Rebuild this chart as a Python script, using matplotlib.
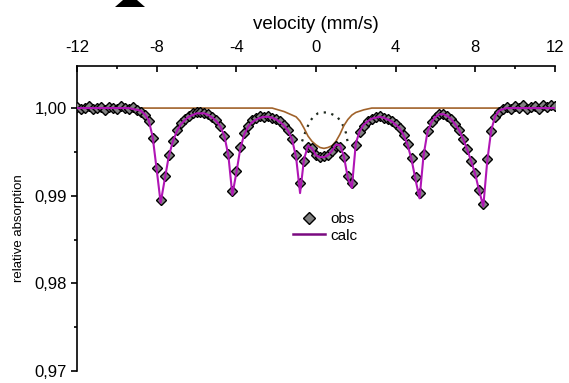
import numpy as np
import matplotlib
matplotlib.use("Agg")
import matplotlib.pyplot as plt
from matplotlib.ticker import MultipleLocator, FuncFormatter
from matplotlib.patches import Polygon
from matplotlib.lines import Line2D

plt.rcParams['font.family'] = ['Liberation Sans', 'DejaVu Sans']

# velocity grid (mm/s)
velocity = np.linspace(-12, 12, 121)

obs = [1.0001, 0.9999, 1.0000, 1.0002, 0.9999, 1.0000, 1.0001, 0.9998, 1.0001, 1.0000,
       0.9999, 1.0002, 1.0000, 0.9999, 1.0001, 0.9998, 0.9996, 0.9992, 0.9985, 0.9966,
       0.9932, 0.9895, 0.9922, 0.9947, 0.9962, 0.9975, 0.9983, 0.9988, 0.9991, 0.9994,
       0.9995, 0.9996, 0.9994, 0.9993, 0.9990, 0.9986, 0.9980, 0.9968, 0.9948, 0.9905,
       0.9928, 0.9956, 0.9971, 0.9980, 0.9986, 0.9989, 0.9991, 0.9990, 0.9991, 0.9989,
       0.9988, 0.9985, 0.9981, 0.9975, 0.9965, 0.9946, 0.9914, 0.9940, 0.9956, 0.9954,
       0.9947, 0.9944, 0.9945, 0.9947, 0.9951, 0.9957, 0.9956, 0.9944, 0.9922, 0.9914,
       0.9958, 0.9973, 0.9980, 0.9985, 0.9988, 0.9990, 0.9991, 0.9989, 0.9988, 0.9985,
       0.9982, 0.9977, 0.9969, 0.9959, 0.9943, 0.9921, 0.9903, 0.9948, 0.9974, 0.9984,
       0.9990, 0.9993, 0.9993, 0.9991, 0.9988, 0.9982, 0.9975, 0.9965, 0.9953, 0.9940,
       0.9926, 0.9907, 0.9891, 0.9942, 0.9974, 0.9990, 0.9996, 0.9999, 1.0001, 0.9999,
       1.0002, 1.0000, 1.0003, 0.9999, 1.0001, 1.0002, 0.9999, 1.0003, 1.0001, 1.0004,
       1.0002]

calc = [1.0000, 1.0000, 1.0000, 1.0000, 1.0000, 1.0000, 1.0000, 1.0000, 1.0000, 1.0000,
        1.0000, 1.0000, 1.0000, 1.0000, 0.9999, 0.9998, 0.9997, 0.9993, 0.9986, 0.9967,
        0.9930, 0.9892, 0.9918, 0.9944, 0.9961, 0.9973, 0.9981, 0.9986, 0.9990, 0.9992,
        0.9994, 0.9994, 0.9994, 0.9992, 0.9989, 0.9985, 0.9979, 0.9968, 0.9946, 0.9901,
        0.9926, 0.9954, 0.9970, 0.9979, 0.9984, 0.9987, 0.9989, 0.9990, 0.9990, 0.9989,
        0.9987, 0.9984, 0.9980, 0.9974, 0.9964, 0.9944, 0.9903, 0.9942, 0.9957, 0.9954,
        0.9946, 0.9944, 0.9944, 0.9946, 0.9951, 0.9958, 0.9958, 0.9945, 0.9920, 0.9909,
        0.9960, 0.9974, 0.9981, 0.9985, 0.9988, 0.9989, 0.9990, 0.9989, 0.9987, 0.9985,
        0.9981, 0.9977, 0.9969, 0.9958, 0.9941, 0.9918, 0.9897, 0.9946, 0.9973, 0.9984,
        0.9990, 0.9993, 0.9993, 0.9991, 0.9987, 0.9981, 0.9974, 0.9964, 0.9952, 0.9939,
        0.9924, 0.9905, 0.9888, 0.9940, 0.9975, 0.9991, 0.9997, 0.9999, 1.0000, 1.0000,
        1.0000, 1.0000, 1.0000, 1.0000, 1.0000, 1.0000, 1.0000, 1.0000, 1.0000, 1.0000,
        1.0000]

# broad central component (brown)
brown_v = [-12.0, -2.2, -1.6, -1.3, -1.0, -0.8, -0.6, -0.4, -0.2, 0.0, 0.2, 0.4, 0.6,
           0.8, 1.0, 1.2, 1.4, 1.6, 1.8, 2.0, 2.4, 2.8, 12.0]
brown = [1.0000, 1.0000, 0.9996, 0.9993, 0.9990, 0.9985, 0.9977, 0.9968, 0.9962, 0.9958,
         0.9955, 0.9954, 0.9955, 0.9957, 0.9962, 0.9970, 0.9980, 0.9987, 0.9992, 0.9995,
         0.9998, 1.0000, 1.0000]

# sextet component visible in centre (dotted)
dot_v = [-0.7, -0.5, -0.3, -0.1, 0.1, 0.3, 0.5, 0.7, 0.9, 1.1, 1.3, 1.5, 1.6]
dot = [0.9962, 0.9975, 0.9985, 0.9991, 0.9994, 0.9995, 0.9995, 0.9994, 0.9992, 0.9989,
       0.9983, 0.9972, 0.9960]

xticks = [-12, -8, -4, 0, 4, 8, 12]
yticks = [0.97, 0.98, 0.99, 1.00]

fig = plt.figure(figsize=(5.69, 3.83), dpi=100)
ax = fig.add_axes([77/569, 1 - 371/383, (555-77)/569, (371-66)/383])

ax.plot(dot_v, dot, linestyle=(0, (1, 2.5)), color='#1e2a1e', lw=1.6, zorder=1)
ax.plot(brown_v, brown, color='#a0622a', lw=1.2, zorder=2)
ax.plot(velocity, obs, linestyle='none', marker='D', markersize=5.6,
        markerfacecolor='#808080', markeredgecolor='black', markeredgewidth=1.0, zorder=3)
ax.plot(velocity, calc, color='#b015b5', lw=1.5, zorder=4)

ax.set_xlim(-12, 12)
ax.set_ylim(0.97, 1.0048)

for s in ['right', 'bottom']:
    ax.spines[s].set_visible(False)
for s in ['left', 'top']:
    ax.spines[s].set_linewidth(1.2)

ax.xaxis.tick_top()
ax.xaxis.set_label_position('top')
ax.set_xticks(xticks)
ax.set_xticklabels([str(t) for t in xticks])
ax.xaxis.set_minor_locator(MultipleLocator(2))
ax.tick_params(axis='x', which='major', direction='in', length=4, width=1.2, labelsize=12, pad=8)
ax.tick_params(axis='x', which='minor', direction='in', length=2.5, width=1.2)

ax.set_yticks(yticks)
ax.yaxis.set_major_formatter(FuncFormatter(lambda y, p: f"{y:.2f}".replace('.', ',')))
ax.yaxis.set_minor_locator(MultipleLocator(0.005))
ax.tick_params(axis='y', which='major', direction='out', length=4, width=1.2, labelsize=12)
ax.tick_params(axis='y', which='minor', direction='out', length=2.5, width=1.2)

ax.set_xlabel('velocity (mm/s)', fontsize=13.5, labelpad=8)
fig.text(19/569, 1 - 228/383, 'relative absorption', rotation=90, fontsize=9.5,
         ha='center', va='center')

handles = [Line2D([], [], linestyle='none', marker='D', markersize=6,
                  markerfacecolor='#7f7f7f', markeredgecolor='black', markeredgewidth=1.0),
           Line2D([], [], color='#7a0a80', lw=1.8)]
ax.legend(handles, ['obs', 'calc'], loc='upper left', bbox_to_anchor=(0.43, 0.555),
          frameon=False, fontsize=11, handlelength=2.1, handletextpad=0.3,
          labelspacing=0.15, borderpad=0.2)

# cut-off arrow head at top
tri = Polygon([(115/569, 1 - 7/383), (145/569, 1 - 7/383), (137/569, 1.0), (123/569, 1.0)],
              closed=True, transform=fig.transFigure, facecolor='black', edgecolor='none')
fig.patches.append(tri)

fig.savefig('out.png', dpi=100)
